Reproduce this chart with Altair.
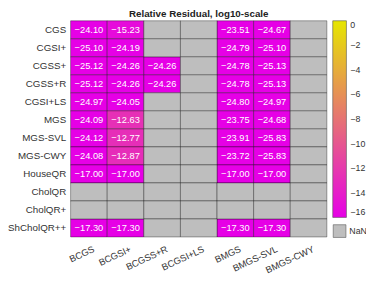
import altair as alt
import pandas as pd

methods = ["CGS", "CGSI+", "CGSS+", "CGSS+R", "CGSI+LS", "MGS", "MGS-SVL",
           "MGS-CWY", "HouseQR", "CholQR", "CholQR+", "ShCholQR++"]
blocks = ["BCGS", "BCGSI+", "BCGSS+R", "BCGSI+LS", "BMGS", "BMGS-SVL", "BMGS-CWY"]
N = None
values = [
    [-24.10, -15.23, N, N, -23.51, -24.67, N],
    [-25.10, -24.19, N, N, -24.79, -25.10, N],
    [-25.12, -24.26, -24.26, N, -24.78, -25.13, N],
    [-25.12, -24.26, -24.26, N, -24.78, -25.13, N],
    [-24.97, -24.05, N, N, -24.80, -24.97, N],
    [-24.09, -12.63, N, N, -23.75, -24.68, N],
    [-24.12, -12.77, N, N, -23.91, -25.83, N],
    [-24.08, -12.87, N, N, -23.72, -25.83, N],
    [-17.00, -17.00, N, N, -17.00, -17.00, N],
    [N, N, N, N, N, N, N],
    [N, N, N, N, N, N, N],
    [-17.30, -17.30, N, N, -17.30, -17.30, N],
]
cbar_ticks = [0, -2, -4, -6, -8, -10, -12, -14, -16]

rows = []
for m, vals in zip(methods, values):
    for b, v in zip(blocks, vals):
        rows.append({"method": m, "block": b, "value": v,
                     "status": "NaN" if v is None else "ok"})
df = pd.DataFrame(rows)

FONT = "Liberation Sans"
W, H = 262, 221

x = alt.X("block:N", sort=blocks, title=None,
          scale=alt.Scale(paddingInner=0, paddingOuter=0),
          axis=alt.Axis(labelAngle=-25, labelAlign="right", labelBaseline="top",
                        ticks=False, domain=False, labelFontSize=9.5,
                        labelColor="#333", labelPadding=7, labelOffset=3))
y = alt.Y("method:N", sort=methods, title=None,
          scale=alt.Scale(paddingInner=0, paddingOuter=0),
          axis=alt.Axis(ticks=False, domain=False, labelFontSize=10,
                        labelColor="#333", labelPadding=5))

base = alt.Chart(df).encode(x=x, y=y)

cells = base.mark_rect(stroke="black", strokeOpacity=0.35, strokeWidth=1).encode(
    color=alt.Color("value:Q",
                    scale=alt.Scale(domain=[-16, 0], range=["#e600e6", "#e6e600"],
                                    clamp=True, interpolate="rgb"),
                    legend=alt.Legend(orient="none", legendX=268, legendY=0,
                                      direction="vertical", title=None,
                                      gradientLength=201, gradientThickness=14,
                                      values=cbar_ticks, labelFontSize=9,
                                      labelColor="#333", labelOffset=4, padding=0,
                                      gradientStrokeColor="#555",
                                      gradientStrokeWidth=0.6))
).transform_filter("datum.status == 'ok'")

nan_cells = base.mark_rect(stroke="black", strokeOpacity=0.35, strokeWidth=1).encode(
    fill=alt.Fill("status:N",
                  scale=alt.Scale(domain=["NaN"], range=["#bebebe"]),
                  legend=alt.Legend(orient="none", legendX=268, legendY=208,
                                    title=None, symbolType="square", symbolSize=169,
                                    symbolStrokeColor="#555", symbolStrokeWidth=0.6,
                                    labelFontSize=9, labelColor="#333", padding=0,
                                    labelOffset=3))
).transform_filter("datum.status == 'NaN'")

labels = base.mark_text(color="white", fontSize=9.5, font=FONT).encode(
    text=alt.Text("value:Q", format=".2f")
).transform_filter("datum.status == 'ok'")

chart = alt.layer(cells, nan_cells, labels).properties(
    width=W, height=H,
    autosize=alt.AutoSizeParams(type="none"),
    padding={"left": 64, "top": 10, "right": 40, "bottom": 44},
    title=alt.Title("Relative Residual, log10-scale", fontSize=10,
                    fontWeight="bold", offset=1, color="#222", font=FONT),
).configure_view(stroke=None).configure_axis(labelFont=FONT).configure_legend(
    labelFont=FONT)

chart.save("out.html", embed_options={"renderer": "svg", "actions": False})
